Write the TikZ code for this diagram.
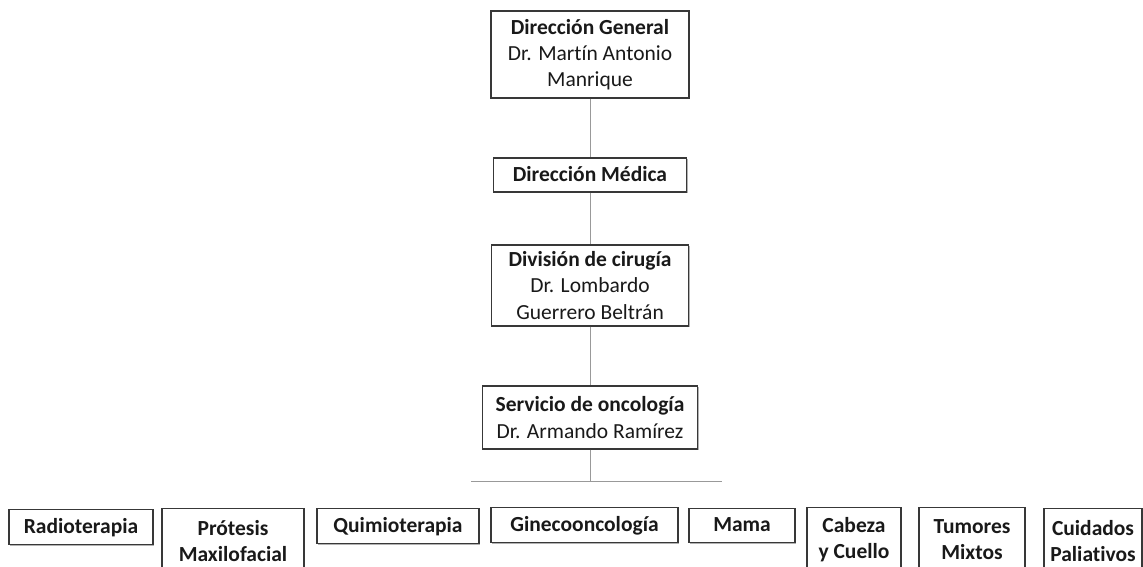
\documentclass[tikz,border=0pt]{standalone}
\usepackage{fontspec}
\setmainfont{Carlito}[Ligatures={NoCommon}]
\usetikzlibrary{shadows}
\begin{document}
\begin{tikzpicture}[x=1pt,y=-1pt,
  unit/.style={draw=black!78, line width=1.4pt, fill=white, inner sep=0pt,
    align=center, text=black!90,
    font=\fontsize{21.5}{26.2}\selectfont,
    drop shadow={shadow xshift=1.2pt, shadow yshift=-1.2pt, fill=black, opacity=0.3}},
  oneline/.style={text height=16.5pt, text depth=4.5pt},
  link/.style={draw=black!40, line width=1pt}]
\useasboundingbox (0,0) rectangle (1143,567);
\clip (0,0) rectangle (1143,567);

% chain of command
\node[unit, minimum width=198pt, minimum height=87pt] (dg) at (590,54.5)
  {\textbf{Dirección General}\\Dr. Martín Antonio\\Manrique};
\node[unit, oneline, minimum width=193pt, minimum height=34pt] (dm) at (590,175)
  {\textbf{Dirección Médica}};
\node[unit, minimum width=197pt, minimum height=81pt] (dc) at (590,285.5)
  {\textbf{División de cirugía}\\Dr. Lombardo\\Guerrero Beltrán};
\node[unit, minimum width=215pt, minimum height=63pt] (so) at (590,417.5)
  {\textbf{Servicio de oncología}\\Dr. Armando Ramírez};

% branch bar
\coordinate (bl) at (471,481);
\coordinate (bm) at (590,481);
\coordinate (br) at (722,481);

\draw[link] (dg) -- (dm);
\draw[link] (dm) -- (dc);
\draw[link] (dc) -- (so);
\draw[link] (so) -- (bm);
\draw[link] (bl) -- (br);

% services
\begin{scope}[every node/.append style={unit, anchor=north, font=\fontsize{21.5}{26.2}\selectfont\bfseries}]
\node[oneline, minimum width=144pt, minimum height=35pt] (rad) at (81,509) {Radioterapia};
\node[minimum width=142pt, minimum height=64pt] (pro) at (233,508) {Prótesis\\Maxilofacial};
\node[oneline, minimum width=162pt, minimum height=35pt] (qui) at (398,508) {Quimioterapia};
\node[oneline, minimum width=187pt, minimum height=35pt] (gin) at (584.5,507) {Ginecooncología};
\node[oneline, minimum width=106pt, minimum height=34pt] (mam) at (742,508) {Mama};
\node[minimum width=94pt, minimum height=64pt] (cab) at (854,507) {Cabeza\\y Cuello};
\node[minimum width=106pt, minimum height=64pt] (tum) at (972,507) {Tumores\\Mixtos};
\node[minimum width=98pt, minimum height=64pt] (cui) at (1093,508) {Cuidados\\Paliativos};
\end{scope}
\end{tikzpicture}
\end{document}
